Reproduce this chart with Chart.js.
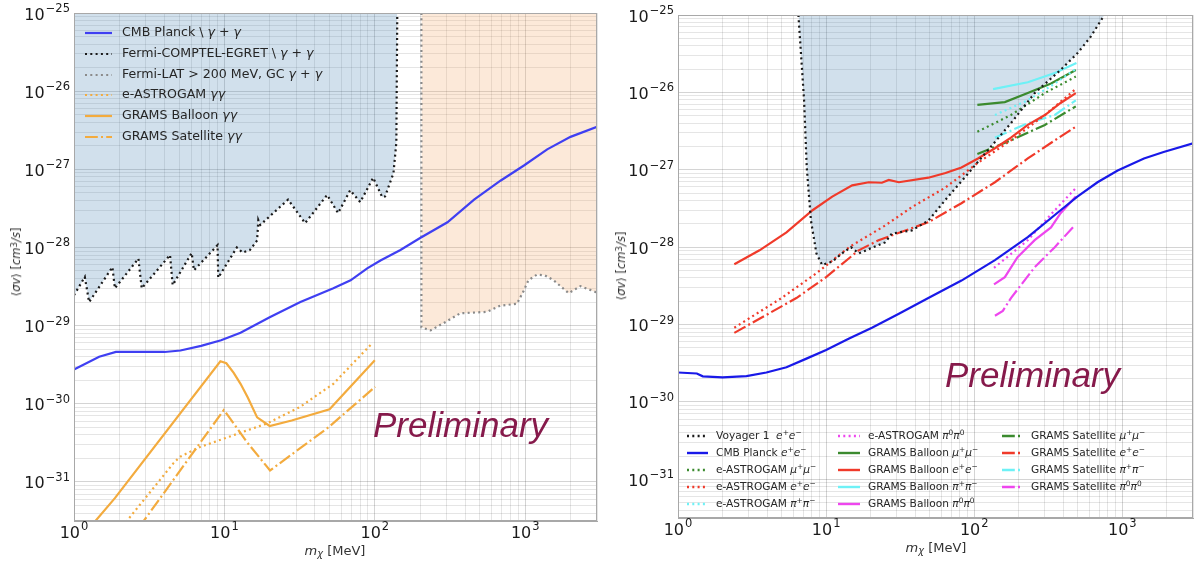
<!DOCTYPE html>
<html><head><meta charset="utf-8">
<script src="https://cdn.jsdelivr.net/npm/chart.js@4.4.0/dist/chart.umd.min.js"></script>
<style>
html,body{margin:0;padding:0;background:#fff;}
#wrap{position:relative;width:1197px;height:562px;overflow:hidden;font-family:"DejaVu Sans",sans-serif;color:#262626;}
canvas{position:absolute;top:0;}
.lt{position:absolute;white-space:nowrap;line-height:16px;}
.lt sup{font-size:0.7em;vertical-align:0.5em;line-height:0;}
.lt sub{font-size:0.7em;vertical-align:-0.3em;line-height:0;}
.prelim{position:absolute;font-family:"Liberation Sans",Arial,sans-serif;font-style:italic;font-size:35px;line-height:35px;color:#861a4b;white-space:nowrap;}
.ytitle{position:absolute;font-size:11.5px;white-space:nowrap;transform:translate(-50%,-50%) rotate(-90deg);color:#333;}
.xtitle{position:absolute;font-size:13px;white-space:nowrap;transform:translate(-50%,-50%);color:#333;}
.xtitle sub{font-size:0.75em;vertical-align:-0.3em;line-height:0;}
.ytitle sup{font-size:0.75em;vertical-align:0.4em;line-height:0;}
</style>
</head><body>
<div id="wrap">
<canvas id="cL" width="600" height="562" style="left:0;width:600px;height:562px"></canvas>
<canvas id="cR" width="597" height="562" style="left:600px;width:597px;height:562px"></canvas>
</div>
<script>
// ---------------- axis ranges ----------------
const X_MIN = 1, X_MAX = 3000;
const Y_MIN = 3.1623e-32, Y_MAX = 1e-25;

// ---------------- LEFT PANEL DATA (m [MeV], <sigma v> [cm^3/s]) ----------------
const cmbPlanckGG = [[1,2.75e-30],[1.47,4.0e-30],[1.9,4.6e-30],[3,4.6e-30],[4,4.6e-30],[5.1,4.8e-30],[7,5.5e-30],[9.5,6.5e-30],[12.8,8.1e-30],[20,1.28e-29],[32,2.0e-29],[53,3.0e-29],[69,3.8e-29],[89,5.4e-29],[109,6.8e-29],[148,9.3e-29],[200,1.32e-28],[304,2.1e-28],[457,4.1e-28],[688,7.2e-28],[980,1.12e-27],[1400,1.8e-27],[2000,2.6e-27],[3000,3.5e-27]];
const fermiCEG_GG = [[1.0,2.45e-29],[1.18,4.2e-29],[1.26,2.0e-29],[1.8,5.6e-29],[1.87,3.0e-29],[2.68,7.2e-29],[2.82,3.0e-29],[4.35,8.0e-29],[4.53,3.3e-29],[6.06,8.5e-29],[6.27,5.1e-29],[9.0,1.07e-28],[9.1,4.1e-29],[12.1,1.0e-28],[13.2,8.6e-29],[14.8,9.3e-29],[16.5,1.23e-28],[16.8,2.24e-28],[17.3,1.94e-28],[26.5,4.1e-28],[34.4,2.05e-28],[48.2,4.7e-28],[57,2.75e-28],[68.6,5.4e-28],[80,3.8e-28],[97.5,7.8e-28],[112,4.4e-28],[117,4.5e-28],[133,8.9e-28],[139,2.2e-27],[141,1e-25]];
const fermiLAT_GG = [[204,1e-25],[204,9.5e-30],[235,8.7e-30],[285,1.07e-29],[370,1.44e-29],[557,1.5e-29],[683,1.8e-29],[881,1.9e-29],[977,2.8e-29],[1050,3.8e-29],[1198,4.5e-29],[1350,4.4e-29],[1545,3.8e-29],[1945,2.6e-29],[2326,3.2e-29],[2926,2.7e-29],[3000,2.65e-29]];
const eAstroGG = [[2.0,2.4e-32],[4.6,1.75e-31],[5.07,2.1e-31],[6.88,2.8e-31],[10.4,3.7e-31],[19.2,5.6e-31],[31.8,9.1e-31],[53,1.8e-30],[95.6,5.9e-30]];
const gramsBalloonGG = [[1.25,2.5e-32],[1.87,6.2e-32],[9.4,3.5e-30],[10.3,3.3e-30],[11.5,2.5e-30],[12.8,1.8e-30],[14.3,1.2e-30],[16.5,6.7e-31],[20,5.2e-31],[28,6.1e-31],[50,8.5e-31],[100,3.6e-30]];
const gramsSatGG = [[2.7,2.6e-32],[9.9,8.3e-31],[10.6,7.0e-31],[14,3.3e-31],[20.1,1.4e-31],[49.2,5.0e-31],[100.6,1.65e-30]];

// ---------------- RIGHT PANEL DATA ----------------
const voyagerEE = [[6.5,1e-25],[7.1,7.9e-27],[7.4,1.07e-27],[7.9,2.2e-28],[8.6,8.3e-29],[9.4,5.9e-29],[11,6.5e-29],[12.8,8.3e-29],[14.7,1.0e-28],[16.6,8.3e-29],[20.4,9.8e-29],[25,1.15e-28],[27.8,1.5e-28],[38,1.65e-28],[49,2.2e-28],[64,4.1e-28],[87,8.1e-28],[124,1.8e-27],[177,4e-27],[256,9.8e-27],[383,1.95e-26],[497,3.2e-26],[610,5.2e-26],[756,1e-25]];
const cmbPlanckEE = [[1,2.4e-30],[1.34,2.33e-30],[1.47,2.14e-30],[2.0,2.08e-30],[2.9,2.15e-30],[3.95,2.4e-30],[5.4,2.8e-30],[7.3,3.6e-30],[10,4.7e-30],[14.3,6.6e-30],[20.4,9.1e-30],[31,1.38e-29],[49,2.2e-29],[82,3.7e-29],[138,6.8e-29],[230,1.35e-28],[383,3e-28],[497,4.5e-28],[680,6.9e-28],[930,9.8e-28],[1400,1.4e-27],[1900,1.7e-27],[3000,2.2e-27]];
const eAstroMuMu = [[105,3.1e-27],[177,5.1e-27],[300,9.8e-27],[485,1.6e-26]];
const eAstroEE = [[2.4,9.1e-30],[5,2.2e-29],[8.6,4.6e-29],[14.3,1.0e-28],[25,1.9e-28],[38,3.3e-28],[64,5.9e-28],[106,1.23e-27],[177,2.4e-27],[300,5.1e-27],[475,1.07e-26]];
const eAstroPiPi = [[138,5.1e-27],[230,7.9e-27],[350,1.3e-26],[485,2.0e-26]];
const eAstroPi0Pi0 = [[136,5.4e-29],[230,1.23e-28],[350,3e-28],[485,5.8e-28]];
const balloonMuMu = [[105,6.9e-27],[161,7.5e-27],[230,9.8e-27],[330,1.3e-26],[485,1.95e-26]];
const balloonEE = [[2.4,6.0e-29],[3.55,9.1e-29],[5.4,1.55e-28],[8.1,3.0e-28],[11,4.5e-28],[15,6.3e-28],[19.4,6.9e-28],[23.8,6.8e-28],[26.5,7.4e-28],[31,6.9e-28],[49,7.9e-28],[64,9.1e-28],[82,1.07e-27],[106,1.4e-27],[138,1.9e-27],[177,2.6e-27],[230,3.8e-27],[300,5.1e-27],[383,7.3e-27],[485,9.8e-27]];
const balloonPiPi = [[134,1.1e-26],[230,1.35e-26],[350,1.78e-26],[490,2.4e-26]];
const balloonPi0Pi0 = [[136,3.3e-29],[161,4.1e-29],[196,7.4e-29],[256,1.23e-28],[330,1.8e-28],[383,2.75e-28],[485,4.5e-28]];
const satMuMu = [[105,1.6e-27],[177,2.4e-27],[300,3.8e-27],[485,6.6e-27]];
const satEE = [[2.4,7.8e-30],[6.3,2.2e-29],[10,4.1e-29],[16.6,9.1e-29],[22.6,1.23e-28],[49,2.1e-28],[82,3.7e-28],[138,6.9e-28],[230,1.4e-27],[350,2.4e-27],[485,3.6e-27]];
const satPiPi = [[138,2.6e-27],[230,4e-27],[350,5.1e-27],[485,7.9e-27]];
const satPi0Pi0 = [[138,1.3e-29],[156,1.5e-29],[177,2.2e-29],[256,5.5e-29],[350,1.0e-28],[475,1.9e-28]];

// ---------------- styles ----------------
const DOT = [2, 3.3], DASHDOT = [12.8, 3.2, 2, 3.2], SOLID = [];
const C_ORANGE = '#f3ab3e', C_BLUE_L = '#3f3ff2', C_BLUE_R = '#1919e8', C_RED = '#f03a2a',
      C_GREEN = '#3b8a2e', C_CYAN = '#6ef1f6', C_MAG = '#ee46ee', C_BLACK = '#1a1a1a', C_GREY = '#8a8a8a';
const FILL_BLUE = 'rgba(70,130,180,0.25)', FILL_PEACH = 'rgba(244,164,96,0.24)';

function decadeExp(v){
  const e = Math.log10(v), r = Math.round(e);
  return Math.abs(e - r) > 1e-6 ? null : r;
}
function decadeLabel(v){
  const r = decadeExp(v);
  return r === null ? '' : '10^' + r;
}
function logTicks(min, max){
  const out = [];
  for (let e = Math.floor(Math.log10(min)) - 1; e <= Math.ceil(Math.log10(max)); e++)
    for (let n = 1; n <= 9; n++){
      const v = parseFloat(n + 'e' + e);
      if (v >= min * 0.999999 && v <= max * 1.000001) out.push({value: v, major: n === 1});
    }
  return out;
}
const gridColor = ctx => (ctx.tick && ctx.tick.major) ? 'rgba(0,0,0,0.17)' : 'rgba(0,0,0,0.10)';

function scales(yWidth, xHeight){
  return {
    x: {type:'logarithmic', min:X_MIN, max:X_MAX,
        afterBuildTicks: s => { s.ticks = logTicks(X_MIN, X_MAX); },
        afterFit: s => { s.height = xHeight; },
        ticks:{display:false, autoSkip:false, maxRotation:0, minRotation:0, callback: v => decadeLabel(v)},
        grid:{color:gridColor, lineWidth:1, drawTicks:false},
        border:{display:true, color:'#a8a8a8'}},
    y: {type:'logarithmic', min:Y_MIN, max:Y_MAX,
        afterBuildTicks: s => { s.ticks = logTicks(Y_MIN, Y_MAX); },
        afterFit: s => { s.width = yWidth; },
        ticks:{display:false, autoSkip:false, callback: v => decadeLabel(v)},
        grid:{color:gridColor, lineWidth:1, drawTicks:false},
        border:{display:true, color:'#a8a8a8'}}
  };
}
const framePlugin = {id:'frame', afterDatasetsDraw(chart){
  const {ctx, chartArea:a} = chart;
  ctx.save(); ctx.strokeStyle = '#a8a8a8'; ctx.lineWidth = 1;
  ctx.strokeRect(Math.round(a.left)+0.5, Math.round(a.top)+0.5, Math.round(a.right-a.left)-1, Math.round(a.bottom-a.top)-1);
  ctx.restore();
}};
// decade tick labels "10" with a raised exponent, placed by the chart's own scales
const expLabelPlugin = {id:'expLabels', afterDraw(chart){
  const ctx = chart.ctx, xs = chart.scales.x, ys = chart.scales.y;
  const big = '16px "DejaVu Sans"', small = '11.5px "DejaVu Sans"';
  ctx.save(); ctx.fillStyle = '#1a1a1a'; ctx.textBaseline = 'alphabetic'; ctx.textAlign = 'left';
  const draw = (v, ax, base, align) => {
    const e = String(decadeExp(v)).replace('-', '\u2212');
    ctx.font = big; const w1 = ctx.measureText('10').width;
    ctx.font = small; const w2 = ctx.measureText(e).width;
    const x0 = align === 'right' ? ax - w1 - w2 - 1 : ax - (w1 + w2 + 1) / 2;
    ctx.font = big; ctx.fillText('10', x0, base);
    ctx.font = small; ctx.fillText(e, x0 + w1 + 1, base - 7.5);
  };
  ys.ticks.forEach(t => { if (decadeExp(t.value) !== null) draw(t.value, ys.right - 4, ys.getPixelForValue(t.value) + 6.5, 'right'); });
  xs.ticks.forEach(t => { if (decadeExp(t.value) !== null) draw(t.value, xs.getPixelForValue(t.value), xs.top + 16.5, 'center'); });
  ctx.restore();
}};

function ds(pairs, color, dash, width, fill){
  return {data: pairs.map(([x,y]) => ({x, y})), borderColor: color, borderDash: dash, borderWidth: width,
          pointRadius: 0, tension: 0, fill: fill ? 'end' : false, backgroundColor: fill || 'transparent'};
}

Chart.defaults.font.family = 'DejaVu Sans';
function makeChart(id, datasets, yWidth, xHeight, pad){
  return new Chart(document.getElementById(id), {
    type:'line',
    data:{datasets},
    options:{responsive:false, animation:false, devicePixelRatio:1,
      layout:{padding:pad},
      plugins:{legend:{display:false}, tooltip:{enabled:false}, filler:{drawTime:'beforeDatasetsDraw'}},
      scales: scales(yWidth, xHeight)},
    plugins:[framePlugin, expLabelPlugin]
  });
}

makeChart('cL', [
  ds(cmbPlanckGG, C_BLUE_L, SOLID, 2.2),
  ds(fermiCEG_GG, C_BLACK, DOT, 2.2, FILL_BLUE),
  ds(fermiLAT_GG, C_GREY, DOT, 2.2, FILL_PEACH),
  ds(eAstroGG, C_ORANGE, DOT, 2.2),
  ds(gramsBalloonGG, C_ORANGE, SOLID, 2.2),
  ds(gramsSatGG, C_ORANGE, DASHDOT, 2.2)
], 74, 41, {top:13, right:3, left:0, bottom:0});

makeChart('cR', [
  ds(voyagerEE, C_BLACK, DOT, 2.2, FILL_BLUE),
  ds(cmbPlanckEE, C_BLUE_R, SOLID, 2.2),
  ds(eAstroMuMu, C_GREEN, DOT, 2.2),
  ds(eAstroEE, C_RED, DOT, 2.2),
  ds(eAstroPiPi, C_CYAN, DOT, 2.2),
  ds(eAstroPi0Pi0, C_MAG, DOT, 2.2),
  ds(balloonMuMu, C_GREEN, SOLID, 2.2),
  ds(balloonEE, C_RED, SOLID, 2.2),
  ds(balloonPiPi, C_CYAN, SOLID, 2.2),
  ds(balloonPi0Pi0, C_MAG, SOLID, 2.2),
  ds(satMuMu, C_GREEN, DASHDOT, 2.2),
  ds(satEE, C_RED, DASHDOT, 2.2),
  ds(satPiPi, C_CYAN, DASHDOT, 2.2),
  ds(satPi0Pi0, C_MAG, DASHDOT, 2.2)
], 78, 44, {top:15, right:4, left:0, bottom:0});

// ---------------- legends & annotations (HTML text) ----------------
const wrap = document.getElementById('wrap');
function el(html, cls, style){ const d = document.createElement('div'); d.className = cls; d.innerHTML = html; Object.assign(d.style, style); wrap.appendChild(d); return d; }
function sample(x0, x1, yc, color, dash, w){
  const W = x1 - x0;
  const svg = `<svg width="${W}" height="8" xmlns="http://www.w3.org/2000/svg"><line x1="0" y1="4" x2="${W}" y2="4" stroke="${color}" stroke-width="${w}" ${dash.length ? `stroke-dasharray="${dash.join(' ')}"` : ''}/></svg>`;
  el(svg, 'lt', {left: x0 + 'px', top: (yc - 4) + 'px', lineHeight: '8px'});
}
function legendRow(x0, x1, tx, yc, color, dash, w, label, fs){
  sample(x0, x1, yc, color, dash, w);
  el(label, 'lt', {left: tx + 'px', top: (yc - 8) + 'px', fontSize: fs + 'px'});
}
const G = '<i>γ</i>', GG = '<i>γγ</i>';
const leftLegend = [
  [C_BLUE_L, SOLID, 'CMB Planck \\ ' + G + ' + ' + G],
  [C_BLACK, DOT, 'Fermi-COMPTEL-EGRET \\ ' + G + ' + ' + G],
  [C_GREY, DOT, 'Fermi-LAT &gt; 200 MeV, GC ' + G + ' + ' + G],
  [C_ORANGE, DOT, 'e-ASTROGAM ' + GG],
  [C_ORANGE, SOLID, 'GRAMS Balloon ' + GG],
  [C_ORANGE, DASHDOT, 'GRAMS Satellite ' + GG]
];
leftLegend.forEach((r, i) => legendRow(85, 112, 122, 32 + i * 20.8, r[0], r[1], 2.2, r[2], 12.6));

const EE = '<i>e</i><sup>+</sup><i>e</i><sup>−</sup>', MM = '<i>μ</i><sup>+</sup><i>μ</i><sup>−</sup>',
      PP = '<i>π</i><sup>+</sup><i>π</i><sup>−</sup>', P0 = '<i>π</i><sup>0</sup><i>π</i><sup>0</sup>';
const rightLegendCols = [
  {x0:687, x1:708, tx:716, rows:[[C_BLACK,DOT,'Voyager 1&nbsp; ' + EE],[C_BLUE_R,SOLID,'CMB Planck ' + EE],[C_GREEN,DOT,'e-ASTROGAM ' + MM],[C_RED,DOT,'e-ASTROGAM ' + EE],[C_CYAN,DOT,'e-ASTROGAM ' + PP]]},
  {x0:838, x1:860, tx:868, rows:[[C_MAG,DOT,'e-ASTROGAM ' + P0],[C_GREEN,SOLID,'GRAMS Balloon ' + MM],[C_RED,SOLID,'GRAMS Balloon ' + EE],[C_CYAN,SOLID,'GRAMS Balloon ' + PP],[C_MAG,SOLID,'GRAMS Balloon ' + P0]]},
  {x0:1002, x1:1022, tx:1031, rows:[[C_GREEN,DASHDOT,'GRAMS Satellite ' + MM],[C_RED,DASHDOT,'GRAMS Satellite ' + EE],[C_CYAN,DASHDOT,'GRAMS Satellite ' + PP],[C_MAG,DASHDOT,'GRAMS Satellite ' + P0]]}
];
rightLegendCols.forEach(c => c.rows.forEach((r, i) => legendRow(c.x0, c.x1, c.tx, 435 + i * 16.9, r[0], r[1], 2.4, r[2], 10.6)));

el('Preliminary', 'prelim', {left:'373px', top:'407px'});
el('Preliminary', 'prelim', {left:'945px', top:'357px'});
const YT = '⟨<i>σv</i>⟩ [<i>cm</i><sup>3</sup><i>/s</i>]';
el(YT, 'ytitle', {left:'16px', top:'262px'});
el(YT, 'ytitle', {left:'621px', top:'266px'});
const XT = '<i>m</i><sub><i>χ</i></sub> [MeV]';
el(XT, 'xtitle', {left:'335px', top:'550px'});
el(XT, 'xtitle', {left:'936px', top:'547px'});
</script>
</body></html>
